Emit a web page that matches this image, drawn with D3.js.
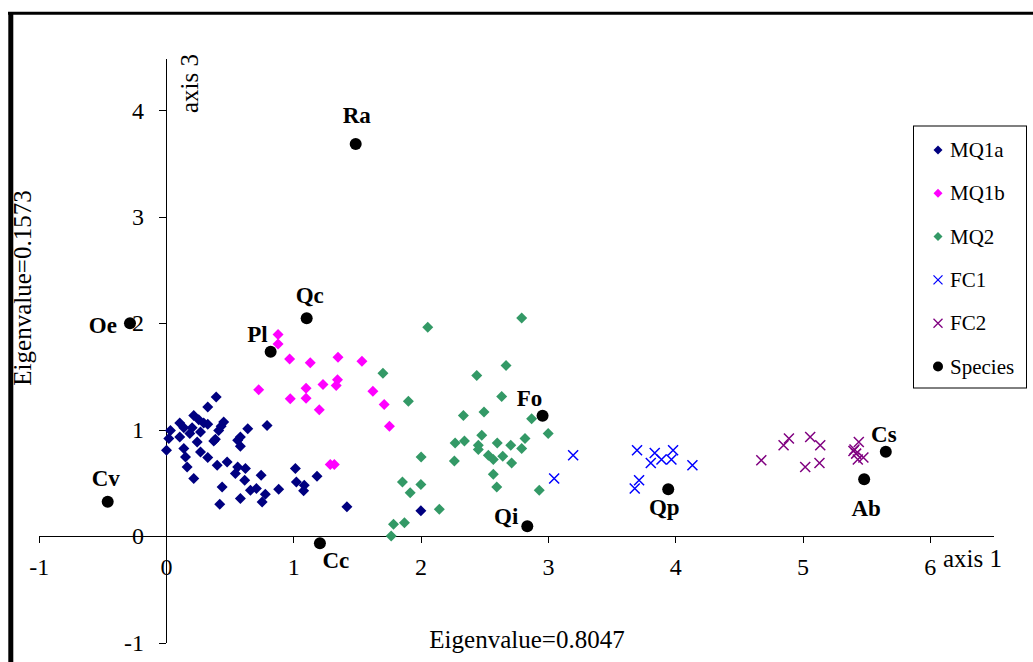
<!DOCTYPE html>
<html>
<head>
<meta charset="utf-8">
<title>CA axis 1 vs axis 3</title>
<script src="https://d3js.org/d3.v7.min.js"></script>
<style>
body{margin:0;background:#fff;}
svg{display:block;font-family:'Liberation Serif','Times New Roman',serif;}
.axis path,.axis line{stroke:#000;stroke-width:1;shape-rendering:crispEdges;}
.axis text{font-size:24px;fill:#000;font-family:'Liberation Serif',serif;}
</style>
</head>
<body>
<svg width="1033" height="662"></svg>
<script>
// tick labels
var xTicks = [-1, 0, 1, 2, 3, 4, 5, 6];
var yTicks = [-1, 0, 1, 2, 3, 4];

// sample scores [axis 1, axis 3]
var mq1a = [[0.394,1.306],[0.328,1.212],[0.218,1.134],[0.257,1.094],[0.296,1.062],[0.328,1.050],
  [0.108,1.062],[0.035,0.993],[0.140,1.019],[0.205,1.019],[0.453,1.071],[0.433,1.031],[0.414,0.993],
  [0.271,0.977],[0.187,0.963],[0.108,0.931],[0.022,0.916],[0.388,0.909],[0.375,0.893],[0.642,1.009],
  [0.794,1.040],[0.584,0.931],[0.563,0.900],[0.245,0.884],[0.584,0.843],[0.004,0.806],[0.140,0.822],
  [0.271,0.790],[0.153,0.743],[0.328,0.738],[0.480,0.696],[0.402,0.665],[0.166,0.649],[0.563,0.649],
  [0.624,0.634],[0.545,0.588],[0.747,0.572],[1.016,0.634],[1.186,0.562],[0.618,0.525],[0.218,0.541],
  [1.024,0.509],[1.086,0.478],[1.081,0.425],[0.441,0.462],[0.663,0.431],[0.710,0.447],[0.885,0.440],
  [0.780,0.394],[0.755,0.321],[0.584,0.353],[0.422,0.300],[1.421,0.275],[2.002,0.237]];
var mq1b = [[0.880,1.893],[0.880,1.806],[0.971,1.665],[1.133,1.628],[1.351,1.680],[1.539,1.643],
  [0.728,1.375],[0.976,1.291],[1.100,1.390],[1.100,1.296],[1.233,1.425],[1.347,1.469],[1.337,1.415],
  [1.204,1.187],[1.625,1.362],[1.714,1.237],[1.755,1.031],[1.290,0.672],[1.322,0.672]];
var mq2 = [[2.056,1.962],[2.794,2.050],[1.704,1.530],[1.904,1.268],[2.441,1.509],[2.671,1.603],
  [2.637,1.312],[2.498,1.165],[2.336,1.134],[2.872,1.103],[3.002,0.963],[2.480,0.947],[2.271,0.874],
  [2.344,0.893],[2.453,0.853],[2.453,0.813],[2.602,0.874],[2.708,0.853],[2.820,0.916],[2.794,0.822],
  [2.532,0.759],[2.571,0.719],[2.645,0.750],[2.004,0.743],[2.265,0.706],[2.715,0.687],[2.571,0.581],
  [2.598,0.462],[2.932,0.431],[1.857,0.509],[2.002,0.485],[1.918,0.406],[2.147,0.253],[1.787,0.112],
  [1.873,0.125],[1.769,0.000]];
var fc1 = [[3.198,0.759],[3.049,0.541],[3.700,0.806],[3.839,0.781],[3.808,0.687],[3.892,0.719],
  [3.983,0.806],[3.970,0.719],[4.135,0.665],[3.716,0.525],[3.682,0.447]];
var fc2 = [[4.676,0.712],[4.851,0.853],[4.893,0.916],[5.060,0.931],[5.139,0.853],[5.021,0.649],
  [5.133,0.687],[5.442,0.884],[5.400,0.799],[5.421,0.775],[5.434,0.719],[5.478,0.738],[5.408,0.813]];

// species scores
var speciesNames = ['Ra','Qc','Oe','Pl','Fo','Cs','Ab','Qp','Cv','Qi','Cc'];
var speciesX = [1.490, 1.105, -0.283, 0.822, 2.958, 5.654, 5.484, 3.945, -0.458, 2.838, 1.209];
var speciesY = [3.684, 2.046, 1.999, 1.733, 1.131, 0.793, 0.534, 0.440, 0.323, 0.092, -0.068];

var legendNames = ['MQ1a','MQ1b','MQ2','FC1','FC2','Species'];

// label placement (pixels from point)
var labelPos = {
  Ra:[1,-29,'middle'], Qc:[3,-23,'middle'], Oe:[-13,2,'end'], Pl:[-3,-17,'end'],
  Fo:[-13,-17,'middle'], Cs:[-2,-17,'middle'], Ab:[2,29,'middle'], Qp:[-4,18,'middle'],
  Cv:[-2,-23,'middle'], Qi:[-9,-10,'end'], Cc:[16,17,'middle']
};

var svg = d3.select('svg');

var x = d3.scaleLinear().domain([-1, 6.5]).range([38.7, 993.5]);
var y = d3.scaleLinear().domain([-1, 4.48]).range([642.5, 59.3]);

// frame
svg.append('line').attr('x1',8).attr('x2',1033).attr('y1',13.3).attr('y2',13.3)
  .attr('stroke','#000').attr('stroke-width',3);
svg.append('line').attr('x1',10.8).attr('x2',10.8).attr('y1',12).attr('y2',662)
  .attr('stroke','#000').attr('stroke-width',5);

// axes
var xAxis = svg.append('g').attr('class','axis')
  .attr('transform','translate(0,' + y(0) + ')')
  .call(d3.axisBottom(x).tickValues(xTicks).tickSize(7).tickSizeOuter(0).tickPadding(15)
    .tickFormat(function(d){ return String(d); }));
var yAxis = svg.append('g').attr('class','axis')
  .attr('transform','translate(' + x(0) + ',0)')
  .call(d3.axisLeft(y).tickValues(yTicks).tickSize(7).tickSizeOuter(0).tickPadding(15)
    .tickFormat(function(d){ return String(d); }));
xAxis.select('.domain').attr('d','M' + x.range()[0] + ',0H' + x.range()[1]);
yAxis.select('.domain').attr('d','M0,' + y.range()[0] + 'V' + y.range()[1]);

// axis titles
svg.append('text').attr('x',943).attr('y',567).attr('font-size',25).text('axis 1');
svg.append('text').attr('transform','translate(198,113) rotate(-90)').attr('font-size',25).text('axis 3');
svg.append('text').attr('x',527).attr('y',648).attr('font-size',25).attr('text-anchor','middle')
  .text('Eigenvalue=0.8047');
svg.append('text').attr('transform','translate(31,288) rotate(-90)').attr('font-size',25)
  .attr('text-anchor','middle').text('Eigenvalue=0.1573');

var diamond = function(r){ return 'M0,' + (-r) + 'L' + r + ',0L0,' + r + 'L' + (-r) + ',0Z'; };
var cross = function(r){ return 'M' + (-r) + ',' + (-r) + 'L' + r + ',' + r + 'M' + (-r) + ',' + r + 'L' + r + ',' + (-r); };

function drawDiamonds(data, color){
  svg.append('g').selectAll('path').data(data).enter().append('path')
    .attr('transform', function(d){ return 'translate(' + x(d[0]) + ',' + y(d[1]) + ')'; })
    .attr('d', diamond(5.5)).attr('fill', color);
}
function drawCrosses(data, color){
  svg.append('g').selectAll('path').data(data).enter().append('path')
    .attr('transform', function(d){ return 'translate(' + x(d[0]) + ',' + y(d[1]) + ')'; })
    .attr('d', cross(5)).attr('fill','none').attr('stroke', color).attr('stroke-width',1.5);
}

drawDiamonds(mq1a, '#000080');
drawDiamonds(mq1b, '#ff00ff');
drawDiamonds(mq2, '#339966');
drawCrosses(fc1, '#0000ff');
drawCrosses(fc2, '#800080');

var species = speciesNames.map(function(n, i){ return {name:n, x:speciesX[i], y:speciesY[i]}; });
svg.append('g').selectAll('circle').data(species).enter().append('circle')
  .attr('cx', function(d){ return x(d.x); })
  .attr('cy', function(d){ return y(d.y); })
  .attr('r', 6).attr('fill','#000');
svg.append('g').selectAll('text').data(species).enter().append('text')
  .attr('x', function(d){ return x(d.x) + labelPos[d.name][0]; })
  .attr('y', function(d){ return y(d.y) + labelPos[d.name][1]; })
  .attr('text-anchor', function(d){ return labelPos[d.name][2]; })
  .attr('dominant-baseline','central')
  .attr('font-size',23).attr('font-weight','bold')
  .text(function(d){ return d.name; });

// legend
var legend = svg.append('g');
legend.append('rect').attr('x',913.5).attr('y',126).attr('width',113).attr('height',262)
  .attr('fill','#fff').attr('stroke','#000').attr('stroke-width',1);
var legendColors = ['#000080','#ff00ff','#339966','#0000ff','#800080','#000'];
legendNames.forEach(function(n, i){
  var cy = 150 + i * 43.3;
  var g = legend.append('g').attr('transform','translate(938,' + cy + ')');
  if (i < 3) g.append('path').attr('d', diamond(4.5)).attr('fill', legendColors[i]);
  else if (i < 5) g.append('path').attr('d', cross(4.5)).attr('fill','none')
    .attr('stroke', legendColors[i]).attr('stroke-width',1.3);
  else g.append('circle').attr('r',5).attr('fill','#000');
  legend.append('text').attr('x',950).attr('y',cy + 7).attr('font-size',21).text(n);
});
</script>
</body>
</html>
